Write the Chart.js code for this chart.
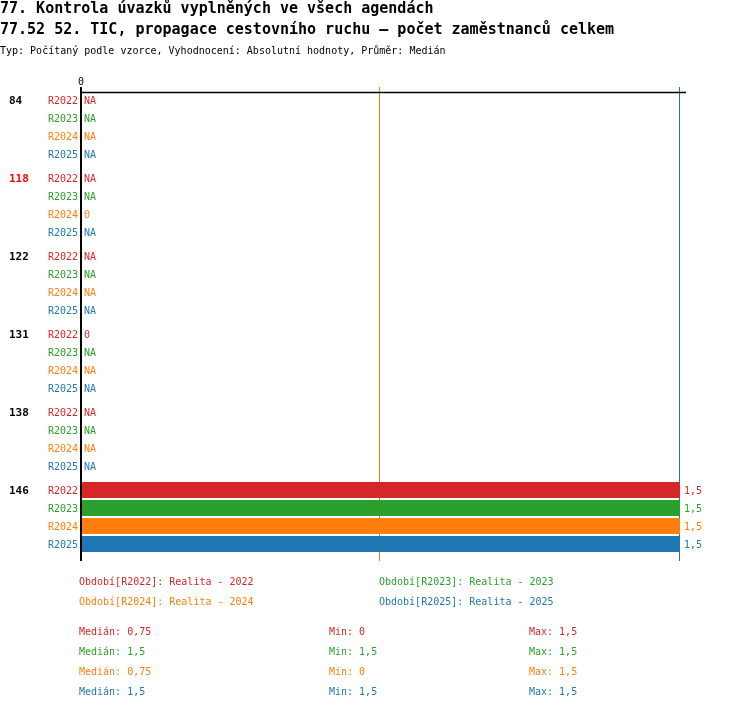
<!DOCTYPE html>
<html>
<head>
<meta charset="utf-8">
<script src="https://cdn.jsdelivr.net/npm/chart.js@4.4.1/dist/chart.umd.min.js"></script>
<style>
html,body{margin:0;padding:0;background:#fff;}
#wrap{position:relative;width:750px;height:710px;}
</style>
</head>
<body>
<div id="wrap"><canvas id="c" width="750" height="710"></canvas></div>
<script>
// ---- data ----
const titleLine1 = "77. Kontrola úvazků vyplněných ve všech agendách";
const titleLine2 = "77.52 52. TIC, propagace cestovního ruchu – počet zaměstnanců celkem";
const subtitle = "Typ: Počítaný podle vzorce, Vyhodnocení: Absolutní hodnoty, Průměr: Medián";
const groups = ["84", "118", "122", "131", "138", "146"];
const highlightedGroup = "118";
const seriesNames = ["R2022", "R2023", "R2024", "R2025"];
const seriesLegend = ["Období[R2022]: Realita - 2022", "Období[R2023]: Realita - 2023", "Období[R2024]: Realita - 2024", "Období[R2025]: Realita - 2025"];
const r2022 = [null, null, null, 0, null, 1.5];
const r2023 = [null, null, null, null, null, 1.5];
const r2024 = [null, 0, null, null, null, 1.5];
const r2025 = [null, null, null, null, null, 1.5];
const medians = [0.75, 1.5, 0.75, 1.5];
const mins = [0, 1.5, 0, 1.5];
const maxs = [1.5, 1.5, 1.5, 1.5];
const xMin = 0, xMax = 1.5;
const zeroTick = "0";

const colors = ["#d62728", "#2ca02c", "#ff7f0e", "#1f77b4"];
const seriesData = [r2022, r2023, r2024, r2025];
const FONT = '"DejaVu Sans Mono", monospace';
const fmt = v => v === null || v === undefined ? "NA" : String(v).replace(".", ",");

const catPct = 72 / 78, barPct = 16 / 18;

const overlay = {
  id: 'overlay',
  beforeDatasetsDraw(chart) {
    const ctx = chart.ctx, xs = chart.scales.x, ca = chart.chartArea;
    ctx.save();
    ctx.lineWidth = 1;
    medians.forEach((m, i) => {
      const x = Math.round(xs.getPixelForValue(m)) - 0.5;
      ctx.strokeStyle = colors[i];
      ctx.beginPath(); ctx.moveTo(x, ca.top - 1); ctx.lineTo(x, ca.bottom + 5); ctx.stroke();
    });
    ctx.restore();
  },
  afterDatasetsDraw(chart) {
    const ctx = chart.ctx, xs = chart.scales.x, ys = chart.scales.y, ca = chart.chartArea;
    ctx.save();
    const x0 = xs.getPixelForValue(xMin);
    // top line
    ctx.strokeStyle = '#000'; ctx.lineWidth = 1.5;
    ctx.beginPath(); ctx.moveTo(x0, ca.top + 4.5); ctx.lineTo(xs.getPixelForValue(xMax) + 6, ca.top + 4.5); ctx.stroke();
    // axis line
    ctx.lineWidth = 2;
    ctx.beginPath(); ctx.moveTo(x0 + 1, ca.top - 1); ctx.lineTo(x0 + 1, ca.bottom + 5); ctx.stroke();
    // zero tick
    ctx.fillStyle = '#000'; ctx.font = '10px ' + FONT; ctx.textAlign = 'center'; ctx.textBaseline = 'middle';
    ctx.fillText(zeroTick, x0 + 1, ca.top - 6);

    const catW = ys.getPixelForValue(1) - ys.getPixelForValue(0);
    const slot = catW * catPct / seriesNames.length;
    groups.forEach((g, j) => {
      const gc = ys.getPixelForValue(j);
      const y0 = gc - slot * 1.5;
      // group label
      ctx.font = 'bold 11px ' + FONT; ctx.textAlign = 'left';
      ctx.fillStyle = g === highlightedGroup ? '#ff0000' : '#000';
      ctx.fillText(g, 9, y0 + 1.5);
      seriesNames.forEach((s, i) => {
        const y = gc + (i - 1.5) * slot + 1.5;
        ctx.font = '10px ' + FONT;
        ctx.fillStyle = colors[i];
        ctx.textAlign = 'right';
        ctx.fillText(s, 78, y);
        const v = seriesData[i][j];
        ctx.textAlign = 'left';
        const xv = (v === null || v === 0) ? x0 + 4 : xs.getPixelForValue(v) + 4;
        ctx.fillText(fmt(v), xv, y);
      });
    });

    // titles
    ctx.textAlign = 'left'; ctx.fillStyle = '#000';
    ctx.font = 'bold 15px ' + FONT;
    ctx.fillText(titleLine1, 0, 9);
    ctx.fillText(titleLine2, 0, 30);
    ctx.font = '10px ' + FONT;
    ctx.fillText(subtitle, 0, 51);

    // legend
    const legX = [79, 379, 79, 379], legY = [582, 582, 602, 602];
    seriesLegend.forEach((t, i) => { ctx.fillStyle = colors[i]; ctx.fillText(t, legX[i], legY[i]); });
    // stats
    seriesNames.forEach((s, i) => {
      const y = 632 + i * 20;
      ctx.fillStyle = colors[i];
      ctx.fillText("Medián: " + fmt(medians[i]), 79, y);
      ctx.fillText("Min: " + fmt(mins[i]), 329, y);
      ctx.fillText("Max: " + fmt(maxs[i]), 529, y);
    });
    ctx.restore();
  }
};

new Chart(document.getElementById('c'), {
  type: 'bar',
  data: {
    labels: groups,
    datasets: seriesNames.map((s, i) => ({
      label: s, data: seriesData[i], backgroundColor: colors[i],
      categoryPercentage: catPct, barPercentage: barPct, borderWidth: 0
    }))
  },
  options: {
    indexAxis: 'y', responsive: false, animation: false, devicePixelRatio: 1,
    layout: { padding: { left: 80, right: 70, top: 88, bottom: 154 } },
    scales: {
      x: { display: false, min: xMin, max: xMax },
      y: { display: false }
    },
    plugins: { legend: { display: false }, tooltip: { enabled: false } }
  },
  plugins: [overlay]
});
</script>
</body>
</html>
